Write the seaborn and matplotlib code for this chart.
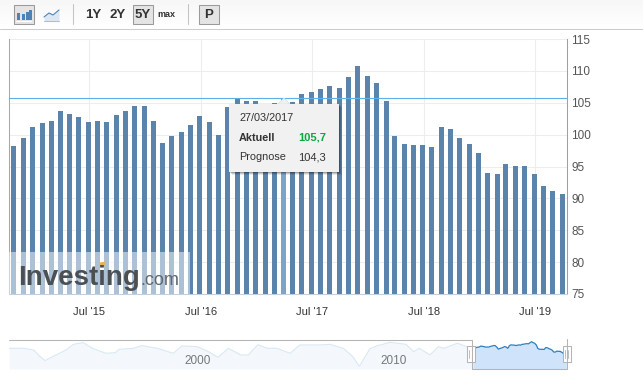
# modules
import numpy as np
import pandas as pd
import seaborn as sns
import matplotlib.pyplot as plt
from matplotlib.patches import Rectangle, Polygon

# ================= Data ================= #
release_dates = [
    "2014-10-27", "2014-11-27", "2014-12-27",
    "2015-01-27", "2015-02-27", "2015-03-27", "2015-04-27", "2015-05-27", "2015-06-27",
    "2015-07-27", "2015-08-27", "2015-09-27", "2015-10-27", "2015-11-27", "2015-12-27",
    "2016-01-27", "2016-02-27", "2016-03-27", "2016-04-27", "2016-05-27", "2016-06-27",
    "2016-07-27", "2016-08-27", "2016-09-27", "2016-10-27", "2016-11-27", "2016-12-27",
    "2017-01-27", "2017-02-27", "2017-03-27", "2017-04-27", "2017-05-27", "2017-06-27",
    "2017-07-27", "2017-08-27", "2017-09-27", "2017-10-27", "2017-11-27", "2017-12-27",
    "2018-01-27", "2018-02-27", "2018-03-27", "2018-04-27", "2018-05-27", "2018-06-27",
    "2018-07-27", "2018-08-27", "2018-09-27", "2018-10-27", "2018-11-27", "2018-12-27",
    "2019-01-27", "2019-02-27", "2019-03-27", "2019-04-27", "2019-05-27", "2019-06-27",
    "2019-07-27", "2019-08-27", "2019-09-27",
]
actual = [
    98.2, 99.5, 101.2, 101.8, 102.2, 103.7, 103.2, 102.8, 102.0, 102.1, 102.0, 103.1,
    103.7, 104.5, 104.5, 102.1, 98.7, 99.8, 100.4, 101.5, 102.9, 102.0, 100.0, 104.3,
    105.7, 105.3, 105.3, 104.6, 104.9, 105.7, 105.1, 106.4, 106.7, 107.2, 107.6, 107.3,
    109.0, 110.8, 109.2, 108.1, 105.3, 99.8, 98.5, 98.4, 98.4, 98.1, 101.2, 100.9,
    99.5, 98.5, 97.1, 94.0, 93.8, 95.4, 95.1, 95.1, 93.8, 92.0, 91.2, 90.7,
]
y_ticks = [75, 80, 85, 90, 95, 100, 105, 110, 115]
x_tick_dates = ["2015-07-01", "2016-07-01", "2017-07-01", "2018-07-01", "2019-07-01"]
x_tick_labels = ["Jul '15", "Jul '16", "Jul '17", "Jul '18", "Jul '19"]
current_value = 105.7

# long history for the navigator strip
nav_years = [1990.4, 1991.2, 1991.7, 1992.0, 1992.3, 1992.7, 1993.4, 1993.8, 1994.3, 1994.8,
             1995.5, 1996.0, 1996.2, 1996.95, 1997.4, 1998.2, 1999.05, 1999.5, 2000.3, 2000.9,
             2001.4, 2001.95, 2002.6, 2003.0, 2003.5, 2004.0, 2004.5, 2005.2, 2005.7, 2006.77,
             2007.3, 2008.0, 2008.5, 2008.84, 2009.4, 2009.75, 2010.45, 2011.3, 2011.7, 2012.0,
             2012.56, 2013.0, 2013.3, 2014.0, 2014.5, 2014.82]
nav_values = [100.0, 100.0, 97.3, 87.5, 80.0, 86.4, 97.3, 106.5, 109.3, 100.0,
              91.9, 93.0, 98.4, 100.0, 104.4, 100.0, 91.9, 103.8, 102.7, 94.6,
              85.3, 100.0, 89.2, 89.2, 106.0, 100.0, 100.0, 91.9, 105.5, 105.5,
              106.5, 100.0, 86.4, 70.7, 99.5, 103.8, 109.8, 106.5, 94.6, 100.0,
              89.2, 102.7, 100.0, 108.2, 102.7, 98.2]

W, H = 643, 378
BAR = "#5b84ad"

sns.set_theme(style="white")
plt.rcParams['font.family'] = ['Liberation Sans', 'DejaVu Sans']


def px_axes(fig, left, top, right, bottom):
    return fig.add_axes([left / W, 1 - bottom / H, (right - left) / W, (bottom - top) / H])


fig = plt.figure(figsize=(W / 100, H / 100), dpi=100)

# ================= Main bars ================= #
ax = px_axes(fig, 8.5, 39, 567, 294)
df = pd.DataFrame({"date": pd.to_datetime(release_dates), "actual": actual})
sns.barplot(data=df, x="date", y="actual", ax=ax, native_scale=True, color=BAR,
            saturation=1, width=0.585, zorder=2)
for p in ax.patches:
    p.set_linewidth(0)
ax.patches[29].set_facecolor("#7ba4c8")

ax.axhline(current_value, color="#5ab1ea", lw=0.8, zorder=3)
ax.set_xlim(pd.Timestamp("2014-10-09"), pd.Timestamp("2019-10-13"))
ax.set_ylim(75, 115)
ax.set_xticks(pd.to_datetime(x_tick_dates))
ax.set_xticklabels(x_tick_labels)
ax.set_yticks(y_ticks)
ax.yaxis.tick_right()
ax.set_xlabel("")
ax.set_ylabel("")
ax.set_axisbelow(True)
ax.grid(True, color="#ededed", lw=0.75)
ax.tick_params(axis="x", length=0, pad=9.5, labelsize=8, labelcolor="#333333")
ax.tick_params(axis="y", length=0, pad=3, labelsize=8.5, labelcolor="#555555")
ax.spines["top"].set_visible(False)
ax.spines["left"].set_color("#a8a8a8")
ax.spines["right"].set_color("#a0a0a0")
ax.spines["bottom"].set_color("#c0d0df")
for s in ["left", "right", "bottom"]:
    ax.spines[s].set_linewidth(0.75)

# ================= Navigator ================= #
nav = px_axes(fig, 9, 339, 567, 369)
nav.set_facecolor("none")
nav.fill_between(nav_years, nav_values, 66.3, color="#f4f8fd", lw=0)
sns.lineplot(x=nav_years, y=nav_values, ax=nav, color="#d9e8f4", lw=0.8, estimator=None)
sel_years = df["date"].dt.year + (df["date"].dt.dayofyear - 1) / 365.25
nav.fill_between(sel_years, actual, 66.3, color="#cfe4fa", lw=0)
sns.lineplot(x=sel_years.values, y=actual, ax=nav, color="#2f7ebc", lw=0.9, estimator=None)
nav.set_xlim(1990.4, 2019.77)
nav.set_ylim(66.3, 115.2)
nav.set_xticks([])
nav.set_yticks([])
nav.set_xlabel("")
nav.set_ylabel("")
for s in nav.spines.values():
    s.set_visible(False)
nav.text(2000.35, 69.5, "2000", ha="center", va="bottom", fontsize=8.5, color="#777777")
nav.text(2010.65, 69.5, "2010", ha="center", va="bottom", fontsize=8.5, color="#777777")

# ================= Page chrome, watermark, tooltip ================= #
top = fig.add_axes([0, 0, 1, 1], zorder=5)
top.patch.set_alpha(0)
top.imshow(np.linspace(0, 1, 28).reshape(-1, 1), extent=(0, W, 28, 0), aspect="auto",
           cmap=plt.cm.colors.LinearSegmentedColormap.from_list("tb", ["#f7f7f7", "#ffffff"]))
top.set_xlim(0, W)
top.set_ylim(H, 0)
top.axis("off")
top.plot([0, W], [28.5, 28.5], color="#cccccc", lw=0.75)


def button(x0, x1):
    top.add_patch(Rectangle((x0, 4.5), x1 - x0, 19.5, fc="#e4e4e4", ec="#9a9a9a", lw=0.75))


button(13.5, 33.5)
button(132.5, 152.5)
button(198.5, 218.5)
for x0, hgt in [(16.5, 7), (21.5, 6), (25.5, 8), (29, 10)]:
    top.add_patch(Rectangle((x0, 20 - hgt), 3, hgt, fc="#4f81b5", lw=0))
top.plot([16, 31], [21, 21], color="#ffffff", lw=0.8)
top.fill_between([44, 49, 53, 59], [17, 13, 15, 10], 21, color="#dbe8f4", lw=0)
top.plot([44, 49, 53, 59], [17, 13, 15, 10], color="#4f81b5", lw=0.8)
top.plot([44, 59], [20.5, 20.5], color="#a9bfd6", lw=0.75)
for x in [72.5, 187.5]:
    top.plot([x, x], [4, 24], color="#c4c4c4", lw=0.75)
for x, lab in [(93, "1Y"), (118, "2Y"), (142.5, "5Y"), (208.5, "P")]:
    top.text(x, 14.5, lab, ha="center", va="center", fontsize=9.5, fontweight="bold", color="#333333")
top.text(166.5, 14.5, "max", ha="center", va="center", fontsize=6.5, fontweight="bold", color="#333333")

# watermark
top.add_patch(Rectangle((9, 252), 181, 41.5, fc="#ffffff", alpha=0.5, lw=0))
top.text(18, 285, "Investing", fontsize=20, fontweight="bold", color="#4b5054", va="baseline")
top.text(140.5, 285, ".com", fontsize=13, color="#62676b", va="baseline")
top.add_patch(Polygon([(100, 262.5), (105, 261.5), (104.5, 266), (99, 266)], fc="#f0b050", lw=0))

# tooltip
for off, alpha in [(3, 0.08), (2, 0.14), (1, 0.2)]:
    top.add_patch(Rectangle((229 + off, 104 + off), 110, 68, fc="#000000", alpha=alpha, lw=0))
top.add_patch(Polygon([(278, 104), (284, 98), (290, 104)], fc="#f1f1f1", ec="#dddddd", lw=0.5))
top.add_patch(Rectangle((229, 104), 110, 68, fc="#f1f1f1", lw=0))
top.text(239, 118, "27/03/2017", fontsize=7.8, color="#333333", va="center")
top.text(239, 138, "Aktuell", fontsize=7.8, fontweight="bold", color="#333333", va="center")
top.text(326, 138, "105,7", fontsize=8, fontweight="bold", color="#0aa83f", va="center", ha="right")
top.text(239, 157.5, "Prognose", fontsize=7.8, color="#333333", va="center")
top.text(326, 157.5, "104,3", fontsize=8, color="#333333", va="center", ha="right")

# navigator outline and handles
GR = "#b4b4b4"
top.plot([9, 471.5, 471.5, 566.5, 566.5], [339.5, 339.5, 369, 369, 339], color=GR, lw=0.75)
for cx in [470.5, 566.5]:
    top.add_patch(Rectangle((cx - 4, 346), 8, 15.5, fc="#ffffff", ec=GR, lw=0.75))
    for dx in [-1.2, 1.2]:
        top.plot([cx + dx, cx + dx], [349.5, 358], color=GR, lw=0.6)

fig.savefig("out.png", dpi=100)
